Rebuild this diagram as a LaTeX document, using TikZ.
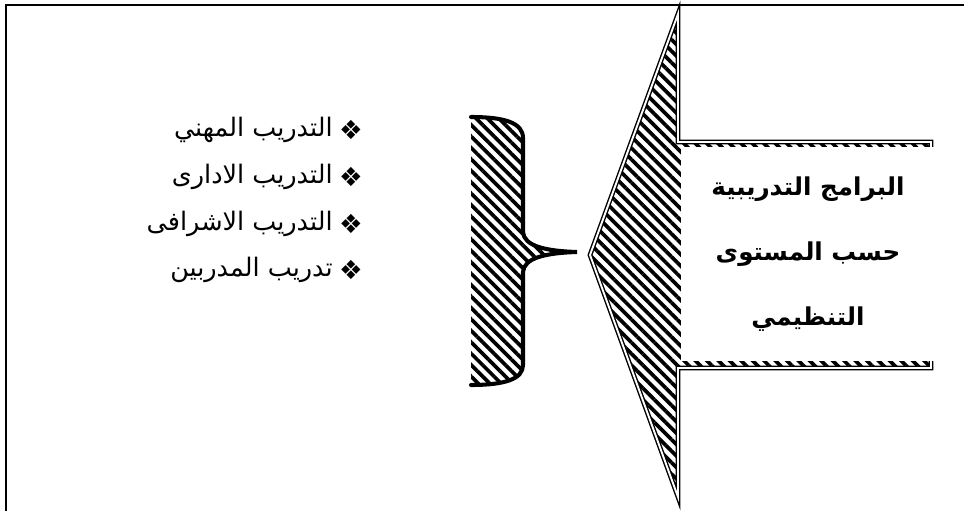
\documentclass[tikz,border=0pt]{standalone}
\usepackage{fontspec}
\usetikzlibrary{patterns.meta}
\newfontfamily\arabicfont[Script=Arabic]{DejaVu Sans}
\newfontfamily\bulletfont{DejaVu Sans}
\TeXXeTstate=1

\begin{document}
\begin{tikzpicture}[x=0.02cm,y=0.02cm,
  hatch/.style={pattern={Lines[angle=-45,distance=4.6pt,line width=2.1pt]}},
  item/.style={anchor=east,inner sep=0pt,font=\arabicfont\fontsize{14.5}{17}\selectfont},
  bul/.style={inner sep=0pt,font=\bulletfont\fontsize{15}{17}\selectfont}]
\useasboundingbox (0,0) rectangle (964,511);
\draw[line width=1.2pt] (6,0) -- (6,506) -- (964,506);

% brace with hatching
\fill[hatch] (471,394) .. controls (505,394) and (523,388) .. (523,373) -- (523,279)
  .. controls (524,265) and (545,260) .. (577,259)
  .. controls (545,258) and (524,253) .. (523,239) -- (523,146)
  .. controls (523,132) and (505,126) .. (471,126) -- cycle;
\draw[line width=2.3pt,line cap=round] (471,394) .. controls (505,394) and (523,388) .. (523,373) -- (523,279)
  .. controls (524,265) and (545,260) .. (577,259)
  .. controls (545,258) and (524,253) .. (523,239) -- (523,146)
  .. controls (523,132) and (505,126) .. (471,126);

% big arrow
\draw[hatch,line width=0.8pt,double=white,double distance=1.1pt]
  (590,256) -- (678,497) -- (678,369) -- (931,369) -- (931,143) -- (678,143) -- (678,14) -- cycle;
\node[fill=white,inner sep=0pt,minimum width=5.1cm,minimum height=4.3cm,align=center,
  font=\arabicfont\bfseries\fontsize{14}{32}\selectfont] (prog) at (808,257)
  {\beginR البرامج التدريبية\endR\\[5pt]\beginR حسب المستوى\endR\\[5pt]\beginR التنظيمي\endR};

% list
\foreach \i/\yy/\txt in {1/381/التدريب المهني,2/334/التدريب الادارى,3/287/التدريب الاشرافى,4/241/تدريب المدربين}{
  \node[bul] (b\i) at (351,\yy) {❖};
  \node[item] (t\i) at (333,\yy) {\beginR\txt\endR};
}
\end{tikzpicture}
\end{document}
